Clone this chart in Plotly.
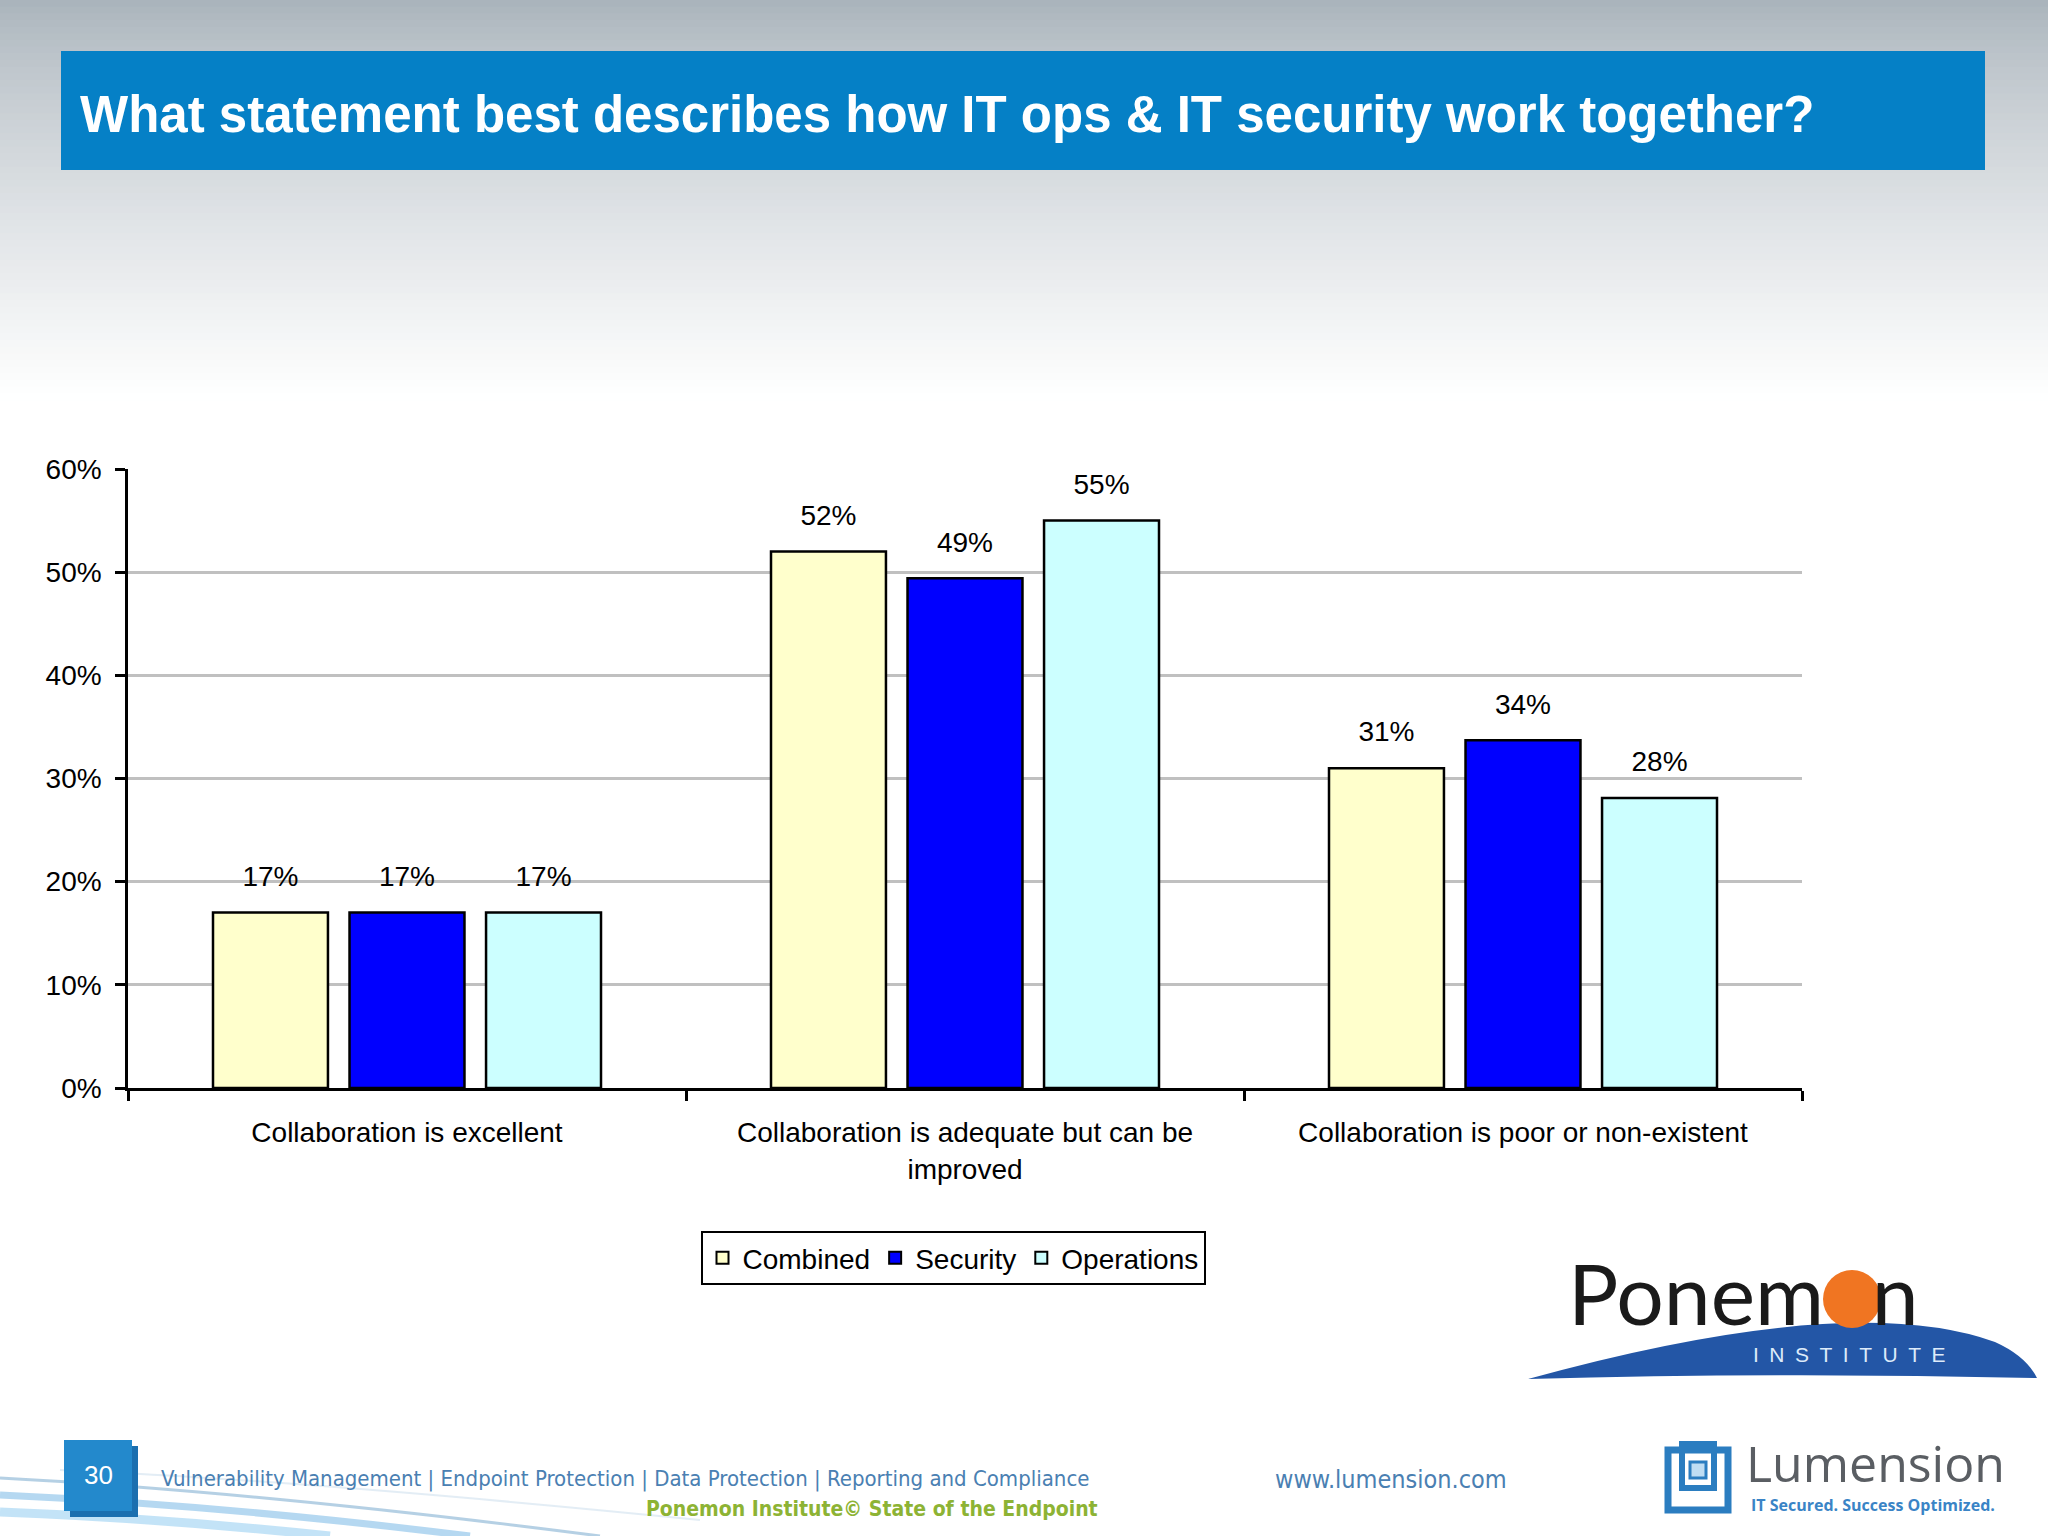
import plotly.graph_objects as go

# ---------------- data ----------------
categories = [
    "Collaboration is excellent",
    "Collaboration is adequate but can be<br>improved",
    "Collaboration is poor or non-existent",
]
series_names = ["Combined", "Security", "Operations"]
combined = [0.17, 0.52, 0.31]
security = [0.17, 0.494, 0.337]
operations = [0.17, 0.55, 0.281]
series_values = [combined, security, operations]
series_colors = ["#FFFFCC", "#0000FF", "#CCFFFF"]
y_ticks = [0, 0.1, 0.2, 0.3, 0.4, 0.5, 0.6]

title_text = "What statement best describes how IT ops &amp; IT security work together?"
footer_left = "Vulnerability Management | Endpoint Protection | Data Protection | Reporting and Compliance"
footer_source = "Ponemon Institute© State of the Endpoint"
footer_url = "www.lumension.com"
page_number = "30"

# ---------------- geometry ----------------
W, H = 2048, 1536
L, R, T, B = 128, 1802, 469, 1088


def px(x):
    return (x - L) / (R - L)


def py(y):
    return (B - y) / (B - T)


def pts_str(points):
    return " ".join("%.5f,%.5f" % (px(p[0]), py(p[1])) for p in points)


fig = go.Figure()

for name, vals, col in zip(series_names, series_values, series_colors):
    fig.add_trace(go.Bar(
        name=name, x=categories, y=vals,
        marker=dict(color=col, line=dict(color="black", width=2.5)),
        offsetgroup=name, alignmentgroup="a", hoverinfo="skip",
    ))

for name, vals in zip(series_names, series_values):
    fig.add_trace(go.Scatter(
        x=categories, y=vals, mode="markers+text",
        text=["%d%%" % round(v * 100) for v in vals],
        textposition="top center",
        textfont=dict(family="Liberation Sans, Arial", size=28, color="black"),
        marker=dict(size=30, color="rgba(0,0,0,0)"),
        offsetgroup=name, alignmentgroup="a",
        showlegend=False, hoverinfo="skip", cliponaxis=False,
    ))

shapes = []
# background gradient at top
top_rgb = (168, 178, 186)
n = 60
g_end = 400
for i in range(n):
    y0 = g_end * i / n
    y1 = g_end * (i + 1) / n + 1
    t = ((i + 0.5) / n) ** 0.75
    c = tuple(int(round(a + (255 - a) * t)) for a in top_rgb)
    shapes.append(dict(type="rect", xref="paper", yref="paper",
                       x0=px(0), x1=px(W), y0=py(y0), y1=py(y1),
                       fillcolor="rgb(%d,%d,%d)" % c, line=dict(width=0), layer="below"))
# title bar
shapes.append(dict(type="rect", xref="paper", yref="paper",
                   x0=px(61), x1=px(1985), y0=py(51), y1=py(170),
                   fillcolor="#0580C6", line=dict(width=0)))

# bottom-left swooshes
sw = [
    ([(0, 1478), (260, 1492), (600, 1536)], "rgba(120,170,205,0.55)", 3),
    ([(0, 1495), (220, 1505), (470, 1536)], "rgba(150,200,235,0.7)", 7),
    ([(0, 1512), (160, 1518), (330, 1536)], "rgba(180,220,245,0.8)", 9),
    ([(60, 1470), (300, 1480), (700, 1520)], "rgba(200,220,235,0.5)", 2),
]
for pts, col, w in sw:
    p = "M " + pts_str(pts[:1]) + " Q " + pts_str(pts[1:])
    shapes.append(dict(type="path", xref="paper", yref="paper", path=p,
                       line=dict(color=col, width=w), layer="below"))

# page number box (shadow + box)
shapes.append(dict(type="rect", xref="paper", yref="paper",
                   x0=px(70), x1=px(138), y0=py(1446), y1=py(1517),
                   fillcolor="#1B6FAF", line=dict(width=0)))
shapes.append(dict(type="rect", xref="paper", yref="paper",
                   x0=px(64), x1=px(132), y0=py(1440), y1=py(1511),
                   fillcolor="#2389CC", line=dict(width=0)))

# Ponemon logo swoosh
sw_path = ("M " + pts_str([(1528, 1379)])
           + " Q " + pts_str([(1850, 1290), (1995, 1342)])
           + " Q " + pts_str([(2026, 1356), (2037, 1378)])
           + " Q " + pts_str([(1780, 1372), (1528, 1379)]) + " Z")
shapes.append(dict(type="path", xref="paper", yref="paper", path=sw_path,
                   fillcolor="#2356A6", line=dict(width=0)))
# orange dot
cx, cy, r = 1852, 1299, 29
shapes.append(dict(type="circle", xref="paper", yref="paper",
                   x0=px(cx - r), x1=px(cx + r), y0=py(cy - r), y1=py(cy + r),
                   fillcolor="#F07522", line=dict(width=0)))

# Lumension icon
shapes.append(dict(type="rect", xref="paper", yref="paper",
                   x0=px(1668), x1=px(1728), y0=py(1450), y1=py(1510),
                   fillcolor="rgba(0,0,0,0)", line=dict(color="#2B7DC0", width=7)))
shapes.append(dict(type="rect", xref="paper", yref="paper",
                   x0=px(1682), x1=px(1714), y0=py(1444), y1=py(1488),
                   fillcolor="rgba(0,0,0,0)", line=dict(color="#2B7DC0", width=6)))
shapes.append(dict(type="rect", xref="paper", yref="paper",
                   x0=px(1690), x1=px(1706), y0=py(1462), y1=py(1478),
                   fillcolor="#BFDDF3", line=dict(color="#2B7DC0", width=3)))

sp = "\u2002"
annotations = [
    dict(text="<b>" + title_text + "</b>", x=px(78), y=py(114), xref="paper", yref="paper",
         xanchor="left", yanchor="middle", showarrow=False,
         font=dict(family="Liberation Sans, Arial", size=51, color="white")),
    dict(text=page_number, x=px(98), y=py(1475), xref="paper", yref="paper",
         xanchor="center", yanchor="middle", showarrow=False,
         font=dict(family="Liberation Sans, Arial", size=26, color="white")),
    dict(text=footer_left, x=px(159), y=py(1479), xref="paper", yref="paper",
         xanchor="left", yanchor="middle", showarrow=False,
         font=dict(family="Liberation Sans Narrow, DejaVu Sans Condensed, Arial", size=22, color="#4A80B2")),
    dict(text="<b>" + footer_source + "</b>", x=px(1100), y=py(1509), xref="paper", yref="paper",
         xanchor="right", yanchor="middle", showarrow=False,
         font=dict(family="Liberation Sans Narrow, DejaVu Sans Condensed, Arial", size=21, color="#8DB334")),
    dict(text=footer_url, x=px(1273), y=py(1479), xref="paper", yref="paper",
         xanchor="left", yanchor="middle", showarrow=False,
         font=dict(family="Liberation Sans Narrow, DejaVu Sans Condensed, Arial", size=25, color="#4A80B2")),
    dict(text="Ponem<span style='color:rgba(0,0,0,0)'>o</span>n", x=px(1566), y=py(1292),
         xref="paper", yref="paper", xanchor="left", yanchor="middle", showarrow=False,
         font=dict(family="Lato, Open Sans", size=84, color="#1A1A1A")),
    dict(text=sp.join("INSTITUTE"), x=px(1849), y=py(1354), xref="paper", yref="paper",
         xanchor="center", yanchor="middle", showarrow=False,
         font=dict(family="Liberation Sans, Arial", size=21, color="#DDEBFA")),
    dict(text="Lumension", x=px(1744), y=py(1463), xref="paper", yref="paper",
         xanchor="left", yanchor="middle", showarrow=False,
         font=dict(family="Open Sans, Lato", size=50, color="#5A5E63")),
    dict(text="<b>IT Secured. Success Optimized.</b>", x=px(1749), y=py(1505), xref="paper", yref="paper",
         xanchor="left", yanchor="middle", showarrow=False,
         font=dict(family="Open Sans, Lato", size=16, color="#3A84C6")),
]

fig.update_layout(
    width=W, height=H, autosize=False,
    margin=dict(l=L, r=W - R, t=T, b=H - B, pad=0),
    paper_bgcolor="white", plot_bgcolor="rgba(0,0,0,0)",
    barmode="group", scattermode="group",
    bargap=0.266, bargroupgap=0.158,
    font=dict(family="Liberation Sans, Arial", size=28, color="black"),
    showlegend=True,
    legend=dict(orientation="h", x=px(953), y=py(1231), xanchor="center", yanchor="top",
                bgcolor="white", bordercolor="black", borderwidth=2,
                font=dict(family="Liberation Sans, Arial", size=28, color="black"),
                traceorder="normal", itemsizing="constant"),
    shapes=shapes, annotations=annotations,
    xaxis=dict(type="category", categoryorder="array", categoryarray=categories,
               showline=True, linecolor="black", linewidth=2.5,
               ticks="outside", tickson="boundaries", ticklen=10, tickwidth=2.5, tickcolor="black",
               showgrid=False, ticklabelstandoff=18,
               tickfont=dict(family="Liberation Sans, Arial", size=28, color="black"),
               fixedrange=True),
    yaxis=dict(range=[0, 0.6], tickvals=y_ticks, tickformat=".0%",
               showline=True, linecolor="black", linewidth=2.5,
               ticks="outside", ticklen=10, tickwidth=2.5, tickcolor="black",
               showgrid=True, gridcolor="#C0C0C0", gridwidth=2.5,
               zeroline=False, ticklabelstandoff=8,
               tickfont=dict(family="Liberation Sans, Arial", size=28, color="black"),
               fixedrange=True),
)

fig.write_html("out.html", config={"displayModeBar": False},
               post_script="document.body.style.margin='0';document.body.style.padding='0';")
